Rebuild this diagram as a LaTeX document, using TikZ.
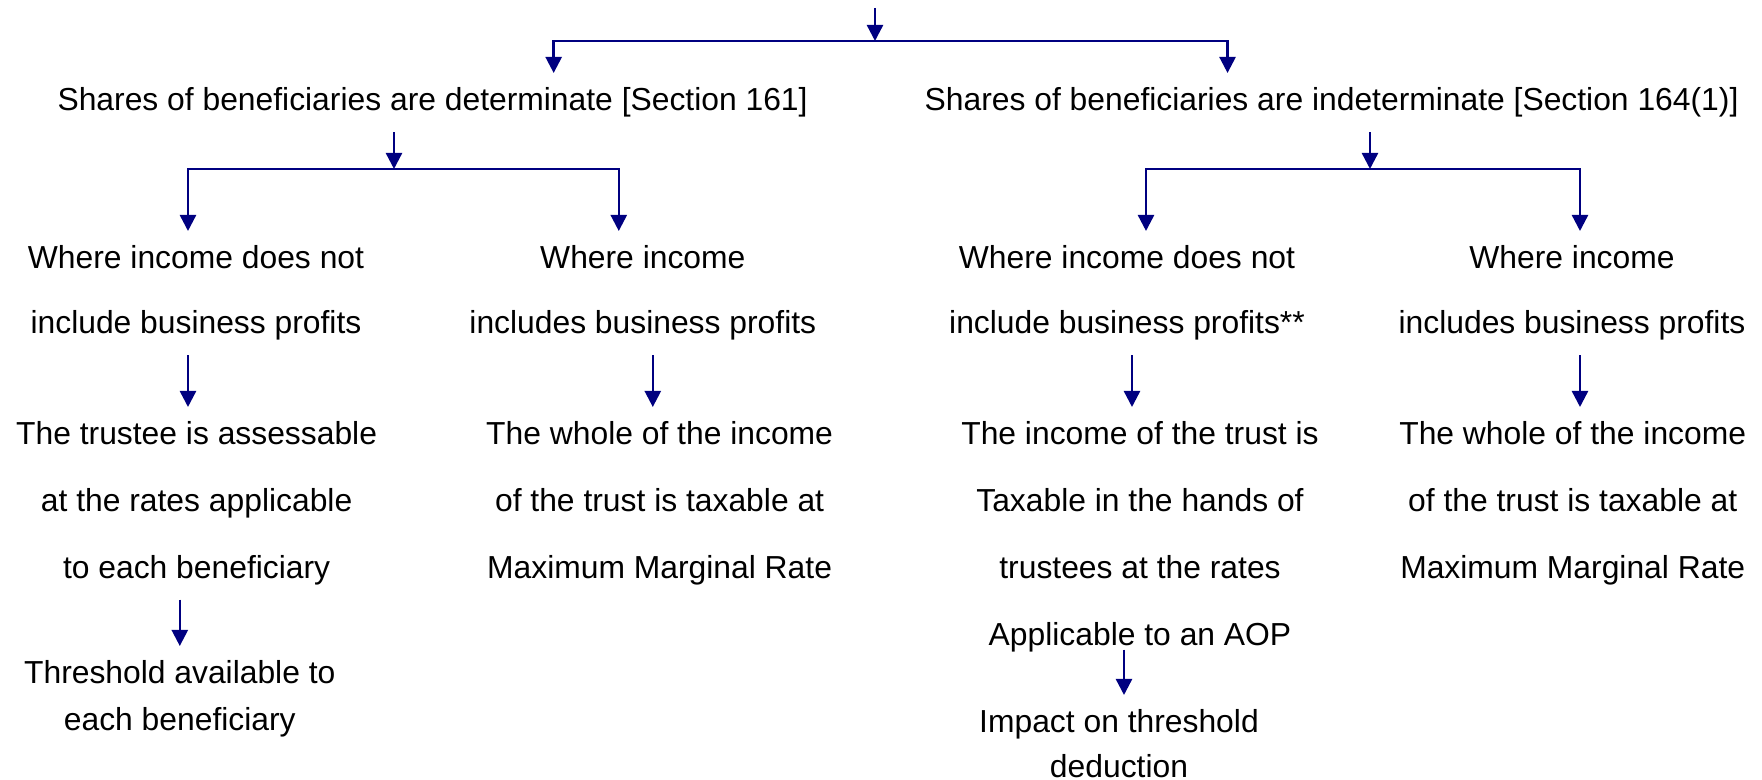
\documentclass[tikz,border=0pt]{standalone}
\usepackage{fontspec}
\setmainfont{Liberation Sans}
\usepackage{tikz}
\usetikzlibrary{arrows.meta}
\definecolor{navy}{RGB}{0,0,128}
\tikzset{
  arr/.style={draw=navy, line width=0.7pt, -{Triangle[length=0.16cm,width=0.16cm]}},
  txt/.style={inner xsep=0pt, inner ysep=0.14cm, anchor=north, align=center,
    font=\fontsize{9.05pt}{#1}\selectfont},
  txt/.default=19pt
}

\begin{document}
\begin{tikzpicture}[x=0.01cm,y=-0.01cm]
  \useasboundingbox (0,0) rectangle (1762,780);
  \node[txt] (det) at (432.6,73) {Shares of beneficiaries are determinate [Section 161]};
  \node[txt] (indet) at (1331.6,73) {Shares of beneficiaries are indeterminate [Section 164(1)]};
  \node[txt=18.5pt] (c1a) at (196,231) {Where income does not\\include business profits};
  \node[txt=18.5pt] (c2a) at (642.8,231) {Where income\\includes business profits};
  \node[txt=18.5pt] (c3a) at (1127,231) {Where income does not\\include business profits**};
  \node[txt=18.5pt] (c4a) at (1572,231) {Where income\\includes business profits};
  \node[txt] (c1b) at (196.6,407) {The trustee is assessable\\at the rates applicable\\to each beneficiary};
  \node[txt] (c2b) at (659.6,407) {The whole of the income\\of the trust is taxable at\\Maximum Marginal Rate};
  \node[txt] (c3b) at (1140,407) {The income of the trust is\\Taxable in the hands of\\trustees at the rates\\Applicable to an AOP};
  \node[txt] (c4b) at (1572.7,407) {The whole of the income\\of the trust is taxable at\\Maximum Marginal Rate};
  \node[txt=13.3pt] (c1c) at (179.8,646) {Threshold available to\\each beneficiary};
  \node[txt=12.8pt] (c3c) at (1119,695) {Impact on threshold\\deduction};

  \coordinate (root) at (875,8);
  \coordinate (fork) at (875,41);
  \coordinate (detfork) at (394,169);
  \coordinate (indetfork) at (1370,169);

  \draw[arr] (root) -- (fork);
  \draw[arr] (fork) -| ([xshift=1.21cm]det.north);
  \draw[arr] (fork) -| ([xshift=-1.04cm]indet.north);

  \draw[arr] (det.south -| detfork) -- (detfork);
  \draw[arr] (detfork) -| ([xshift=-0.08cm]c1a.north);
  \draw[arr] (detfork) -| ([xshift=-0.24cm]c2a.north);
  \draw[arr] (indet.south -| indetfork) -- (indetfork);
  \draw[arr] (indetfork) -| ([xshift=0.19cm]c3a.north);
  \draw[arr] (indetfork) -| ([xshift=0.08cm]c4a.north);

  \draw[arr] ([xshift=-0.08cm]c1a.south) -- ([xshift=-0.08cm]c1a.south |- c1b.north);
  \draw[arr] ([xshift=0.10cm]c2a.south) -- ([xshift=0.10cm]c2a.south |- c2b.north);
  \draw[arr] ([xshift=0.05cm]c3a.south) -- ([xshift=0.05cm]c3a.south |- c3b.north);
  \draw[arr] ([xshift=0.08cm]c4a.south) -- ([xshift=0.08cm]c4a.south |- c4b.north);

  \draw[arr] (c1c.north |- c1b.south) -- (c1c.north);
  \draw[arr, shorten <=-0.17cm] ([xshift=0.05cm]c3c.north |- c3b.south) -- ([xshift=0.05cm]c3c.north);
\end{tikzpicture}
\end{document}
